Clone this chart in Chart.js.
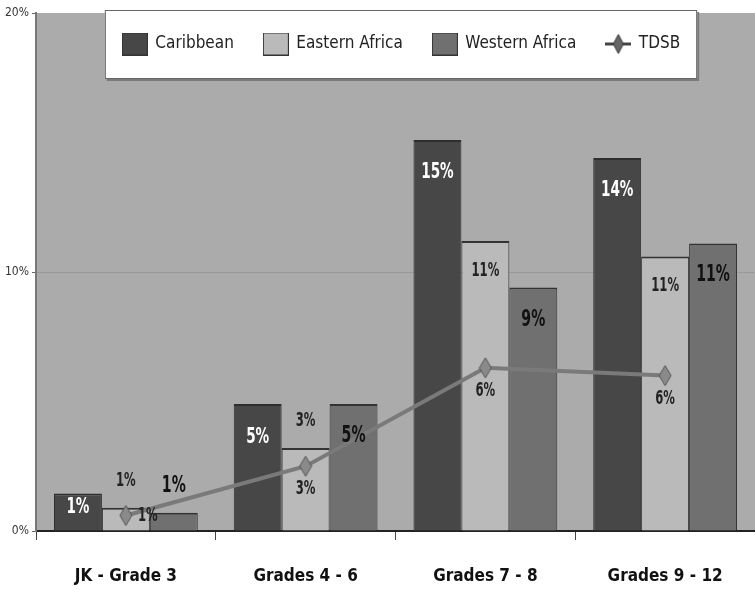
<!DOCTYPE html>
<html>
<head>
<meta charset="utf-8">
<script src="https://cdn.jsdelivr.net/npm/chart.js@4/dist/chart.umd.min.js"></script>
<style>
  html, body { margin: 0; padding: 0; background: #fff; }
  #wrap { width: 755px; height: 590px; }
</style>
</head>
<body>
<div id="wrap"><canvas id="chart"></canvas></div>
<script>
// values (percent)
const categories = ['JK - Grade 3', 'Grades 4 - 6', 'Grades 7 - 8', 'Grades 9 - 12'];
const caribbean = [1.45, 4.9, 15.1, 14.4];
const easternAfrica = [0.9, 3.2, 11.2, 10.6];
const westernAfrica = [0.7, 4.9, 9.4, 11.1];
const tdsb = [0.6, 2.5, 6.3, 6.0];
const yTicks = [0, 10, 20];

const FONT = "'Liberation Sans Narrow', 'Arial Narrow', 'DejaVu Sans Condensed', sans-serif";
const PLOT_BG = '#ababab';

function makeSwatch(color) {
  const c = document.createElement('canvas');
  c.width = 26; c.height = 23;
  const g = c.getContext('2d');
  g.fillStyle = color;
  g.fillRect(0, 0, 26, 23);
  g.strokeStyle = '#333';
  g.lineWidth = 1;
  g.strokeRect(0.5, 0.5, 25, 22);
  return c;
}

function makeDiamond(w, h, fill, stroke, withLine) {
  const c = document.createElement('canvas');
  c.width = withLine ? 26 : w; c.height = h;
  const g = c.getContext('2d');
  const cx = c.width / 2, cy = h / 2;
  if (withLine) {
    g.strokeStyle = '#444';
    g.lineWidth = 3;
    g.beginPath(); g.moveTo(0, cy); g.lineTo(26, cy); g.stroke();
  }
  g.beginPath();
  g.moveTo(cx, 1);
  g.lineTo(cx + w / 2 - 1, cy);
  g.lineTo(cx, h - 1);
  g.lineTo(cx - w / 2 + 1, cy);
  g.closePath();
  g.fillStyle = fill;
  g.fill();
  g.strokeStyle = stroke;
  g.lineWidth = 1;
  g.stroke();
  return c;
}

const tdsbPoint = makeDiamond(14, 22, '#8a8a8a', '#555', false);
const legendIcons = [
  makeSwatch('#474747'),
  makeSwatch('#bababa'),
  makeSwatch('#707070'),
  makeDiamond(12, 21, '#666', '#333', true)
];

// grey plot area, legend laid out as one row inside the plot, white frame behind it
const plotFrame = {
  id: 'plotFrame',
  beforeUpdate(chart) {
    if (chart.legend) chart.legend.isHorizontal = () => true;
  },
  afterLayout(chart) {
    const a = chart.chartArea, lg = chart.legend;
    const labels = lg.options.labels;
    lg.left = a.left + 12;
    lg.right = a.right;
    lg.width = lg.right - lg.left;
    lg.top = 44 - labels.padding - labels.font.size / 2;
  },
  beforeDraw(chart) {
    const { ctx, chartArea: a, legend: lg } = chart;
    ctx.save();
    ctx.fillStyle = PLOT_BG;
    ctx.fillRect(a.left, a.top, a.right - a.left, a.bottom - a.top);
    const pad = lg.options.labels.padding;
    const lineW = lg.lineWidths[0];
    const startX = (lg.left + pad + lg.right - lineW) / 2;
    const left = startX - 18, right = startX + lineW - pad + 17;
    const cy = lg.top + pad + lg.options.labels.font.size / 2;
    const top = cy - 34, bottom = cy + 35;
    ctx.fillStyle = '#7a7a7a';
    ctx.fillRect(left + 2, top + 2, right - left, bottom - top);
    ctx.fillStyle = '#fff';
    ctx.fillRect(left, top, right - left, bottom - top);
    ctx.strokeStyle = '#666';
    ctx.lineWidth = 1;
    ctx.strokeRect(left + 0.5, top + 0.5, right - left - 1, bottom - top - 1);
    ctx.restore();
  }
};

// percent labels, drawn narrow like the original
const valueLabels = {
  id: 'valueLabels',
  afterDatasetsDraw(chart) {
    const ctx = chart.ctx;
    chart.data.datasets.forEach((ds, di) => {
      const meta = chart.getDatasetMeta(di);
      const lab = ds.valueLabel;
      meta.data.forEach((el, i) => {
        const v = ds.data[i];
        const text = Math.round(v) + '%';
        let x = el.x, y;
        if (ds.type === 'line') {
          if (v < 1) { x += 22; y = el.y + 1; } else y = el.y + 23;
        } else if (v < lab.above) {
          y = el.y - 27;
        } else {
          y = Math.min(el.y + lab.inset, el.base - 23);
        }
        ctx.save();
        ctx.translate(x, y);
        ctx.scale(lab.squeeze, 1);
        ctx.font = `bold ${lab.size}px ${FONT}`;
        ctx.fillStyle = lab.color;
        ctx.textAlign = 'center';
        ctx.textBaseline = 'middle';
        ctx.fillText(text, 0, 0);
        ctx.restore();
      });
    });
  }
};

const barBorder = { top: 2, left: 1, right: 1, bottom: 0 };

new Chart(document.getElementById('chart'), {
  type: 'bar',
  data: {
    labels: categories,
    datasets: [
      {
        label: 'Caribbean', data: caribbean, order: 1,
        backgroundColor: '#474747', borderColor: '#2e2e2e', borderWidth: barBorder,
        valueLabel: { color: '#fff', size: 21, squeeze: 0.72, above: 0, inset: 33 }
      },
      {
        label: 'Eastern Africa', data: easternAfrica, order: 1,
        backgroundColor: '#bababa', borderColor: '#333', borderWidth: barBorder,
        valueLabel: { color: '#222', size: 19, squeeze: 0.68, above: 5, inset: 30 }
      },
      {
        label: 'Western Africa', data: westernAfrica, order: 1,
        backgroundColor: '#707070', borderColor: '#333', borderWidth: barBorder,
        valueLabel: { color: '#111', size: 23, squeeze: 0.68, above: 2, inset: 32 }
      },
      {
        type: 'line', label: 'TDSB', data: tdsb, order: 0,
        borderColor: '#7a7a7a', borderWidth: 4, fill: false, tension: 0,
        pointStyle: tdsbPoint,
        valueLabel: { color: '#222', size: 19, squeeze: 0.68 }
      }
    ]
  },
  options: {
    responsive: true,
    maintainAspectRatio: false,
    animation: false,
    devicePixelRatio: 1,
    layout: { autoPadding: false, padding: { top: 13, right: 0, bottom: 0, left: 0 } },
    datasets: { bar: { categoryPercentage: 0.8, barPercentage: 1.0 } },
    plugins: {
      tooltip: { enabled: false },
      legend: {
        position: 'chartArea',
        labels: {
          usePointStyle: true,
          pointStyleWidth: 24,
          padding: 30,
          color: '#222',
          font: { family: FONT, size: 17 },
          sort: (a, b) => a.datasetIndex - b.datasetIndex,
          generateLabels(chart) {
            const items = Chart.defaults.plugins.legend.labels.generateLabels(chart);
            items.forEach(it => { it.pointStyle = legendIcons[it.datasetIndex]; });
            return items;
          }
        }
      }
    },
    scales: {
      x: {
        // long tick with only its first 8px inked, so labels sit low without tick padding
        grid: {
          drawOnChartArea: false, offset: true,
          tickLength: 35, tickColor: '#444', tickBorderDash: [8, 100]
        },
        border: { color: '#222', width: 2 },
        ticks: { color: '#111', padding: 0, font: { family: FONT, size: 17, weight: 'bold' } },
        afterFit(scale) {
          scale.height = 59;
          scale.paddingLeft = 0;
          scale.paddingRight = 0;
        }
      },
      y: {
        min: 0, max: 20,
        afterBuildTicks(scale) { scale.ticks = yTicks.map(v => ({ value: v })); },
        grid: {
          color: ctx => ctx.tick && ctx.tick.value === 10 ? '#999' : 'rgba(0,0,0,0)',
          tickColor: '#666', tickLength: 4
        },
        border: { color: '#777', width: 2 },
        ticks: {
          color: '#333', padding: 3,
          font: { family: FONT, size: 12 },
          callback: v => v + '%'
        },
        afterFit(scale) { scale.width = 36; }
      }
    }
  },
  plugins: [plotFrame, valueLabels]
});
</script>
</body>
</html>
